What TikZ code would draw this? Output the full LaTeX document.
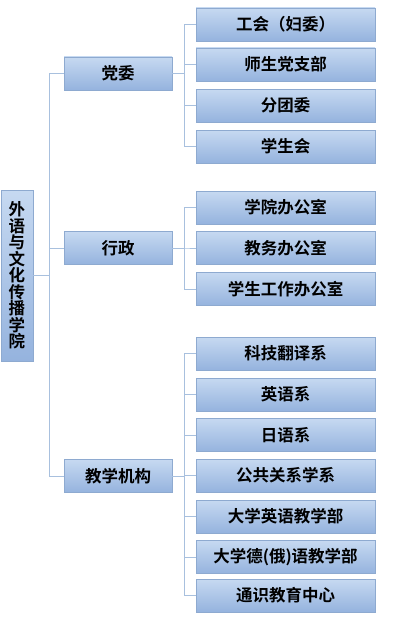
\documentclass[tikz,border=0pt]{standalone}
\usepackage{fontspec}
\usepackage{xcolor}
\newfontfamily\cjk[BoldFont={Noto Sans CJK SC Bold}]{Noto Sans CJK SC}
\definecolor{boxtop}{HTML}{C6D9F1}
\definecolor{boxbot}{HTML}{95B3DE}
\definecolor{boxline}{HTML}{8EAAD0}
\definecolor{linkline}{HTML}{A8C0DE}
\tikzset{
  unitbox/.style={draw=boxline,line width=0.6pt,top color=boxtop,bottom color=boxbot,
    minimum height=33pt,inner sep=0pt,text=black,
    font=\cjk\bfseries\fontsize{16.5}{16.5}\selectfont},
  headbox/.style={unitbox,minimum width=108pt},
  subbox/.style={unitbox,minimum width=179pt},
  link/.style={draw=linkline,line width=0.8pt}
}
\begin{document}
\begin{tikzpicture}[x=1pt,y=-1pt]
\useasboundingbox (0,0) rectangle (400,626);
%define the root box
\node[unitbox,minimum width=32pt,minimum height=171pt,align=center] (college) at (17,275.5)
  {外\\语\\与\\文\\化\\传\\播\\学\\院};
%the three heads
\node[headbox] (party) at (118,73.5) {党委};
\node[headbox] (admin) at (118,248) {行政};
\node[headbox] (teach) at (118,476) {教学机构};
%units under the party committee
\node[subbox] (union) at (285.5,24.5) {工会（妇委）};
\node[subbox] (branch) at (285.5,64.5) {师生党支部};
\node[subbox] (league) at (285.5,105.5) {分团委};
\node[subbox] (students) at (285.5,146.5) {学生会};
%units under the administration
\node[subbox] (office) at (285.5,207.5) {学院办公室};
\node[subbox] (affairs) at (285.5,248) {教务办公室};
\node[subbox] (work) at (285.5,289) {学生工作办公室};
%teaching units
\node[subbox] (tech) at (285.5,353.5) {科技翻译系};
\node[subbox] (english) at (285.5,394.5) {英语系};
\node[subbox] (japanese) at (285.5,435) {日语系};
\node[subbox] (public) at (285.5,475.5) {公共关系学系};
\node[subbox] (colleng) at (285.5,516.5) {大学英语教学部};
\node[subbox] (germru) at (285.5,557) {大学德(俄)语教学部};
\node[subbox] (general) at (285.5,595.5) {通识教育中心};
%the bus lines
\coordinate (trunk) at (49,275.5);
\coordinate (partybus) at (184,73.5);
\coordinate (adminbus) at (184,248);
\coordinate (teachbus) at (184,476);
%draw the trunk to the heads
\draw[link] (college.east) -- (trunk) |- (party.west);
\draw[link] (college.east) -- (trunk) |- (admin.west);
\draw[link] (college.east) -- (trunk) |- (teach.west);
%draw the brackets to the units
\foreach \u in {union,branch,league,students}
  \draw[link] (party.east) -- (partybus) |- (\u.west);
\foreach \u in {office,affairs,work}
  \draw[link] (admin.east) -- (adminbus) |- (\u.west);
\foreach \u in {tech,english,japanese,public,colleng,germru,general}
  \draw[link] (teach.east) -- (teachbus) |- (\u.west);
\end{tikzpicture}
\end{document}
